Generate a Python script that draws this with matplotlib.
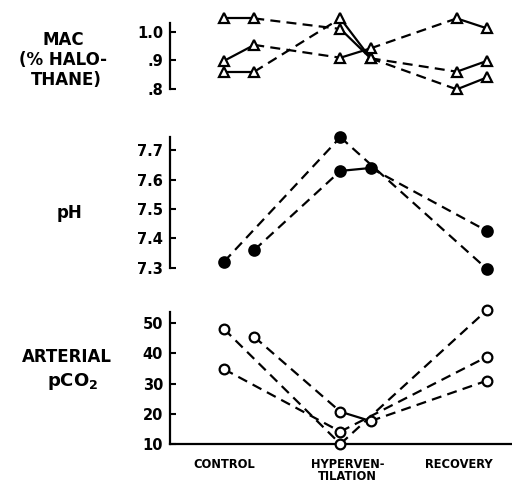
import matplotlib
matplotlib.use("Agg")
import matplotlib.pyplot as plt

# ---------------- data ----------------
# six time slots: control (early, late), hyperventilation (early, late), recovery (early, late)
phases = ["CONTROL", "HYPERVEN-\nTILATION", "RECOVERY"]

mac_s1 = [0.860, 0.860, 1.047, 0.907, 0.798, 0.840]
mac_s2 = [1.047, 1.047, 1.010, 0.907, 0.860, 0.898]
mac_s3 = [0.898, 0.954, 0.909, 0.942, 1.047, 1.012]
mac_ticks = [0.8, 0.9, 1.0]
mac_ticklabels = [".8", ".9", "1.0"]

ph_s1 = [7.32, None, 7.745, None, None, 7.295]
ph_s2 = [None, 7.36, 7.63, 7.64, None, 7.425]
ph_ticks = [7.3, 7.4, 7.5, 7.6, 7.7]

pco2_s1 = [48.1, None, 10.0, None, None, 54.4]
pco2_s2 = [34.8, None, 14.1, None, None, 38.9]
pco2_s3 = [None, 45.5, 20.7, 17.6, None, 31.0]
pco2_ticks = [10, 20, 30, 40, 50]

# ---------------- layout ----------------
W, H = 512, 483
fig = plt.figure(figsize=(W / 100, H / 100), dpi=100)
plt.rcParams["font.family"] = ["DejaVu Sans"]
plt.rcParams["mathtext.fontset"] = "dejavusans"

SUB = 0.26
slot_phase = [0, 0, 1, 1, 2, 2]
slot_x = [p + SUB * (i % 2) for i, p in enumerate(slot_phase)]

X_LEFT_PX, X_RIGHT_PX = 170, 512
x0_px, xpu = 224, (487 - 224) / 2.26
xlim = ((X_LEFT_PX - x0_px) / xpu, (X_RIGHT_PX - x0_px) / xpu)


def make_ax(v1, p1, v2, p2, ylim):
    s = (p2 - p1) / (v2 - v1)
    top = p1 + s * (ylim[1] - v1)
    bot = p1 + s * (ylim[0] - v1)
    rect = [X_LEFT_PX / W, 1 - bot / H, (X_RIGHT_PX - X_LEFT_PX) / W, (bot - top) / H]
    ax = fig.add_axes(rect)
    ax.set_xlim(*xlim)
    ax.set_ylim(*ylim)
    ax.patch.set_alpha(0)
    for sp in ("top", "right"):
        ax.spines[sp].set_visible(False)
    for sp in ax.spines.values():
        sp.set_linewidth(1.6)
    ax.set_xticks([])
    ax.tick_params(axis="y", direction="in", length=4, width=1.5, pad=5, labelsize=10.5)
    return ax


def draw_subject(ax, vals, marker, filled, ms):
    pts = [(slot_x[i], v, slot_phase[i]) for i, v in enumerate(vals) if v is not None]
    for (xa, ya, pa), (xb, yb, pb) in zip(pts[:-1], pts[1:]):
        ls = "-" if pa == pb else (0, (4.5, 2.8))
        ax.plot([xa, xb], [ya, yb], color="black", lw=1.6, linestyle=ls,
                zorder=2, clip_on=False)
    ax.plot([p[0] for p in pts], [p[1] for p in pts], linestyle="none",
            marker=marker, ms=ms, mec="black", mew=1.6,
            mfc="black" if filled else "white", zorder=3, clip_on=False)


# MAC panel
ax1 = make_ax(1.0, 31.8, 0.8, 88.8, (0.76, 1.07))
ax1.spines["bottom"].set_visible(False)
ax1.spines["left"].set_bounds(0.8, 1.03)
ax1.set_yticks(mac_ticks)
ax1.set_yticklabels(mac_ticklabels, fontweight="bold")
for s in (mac_s1, mac_s2, mac_s3):
    draw_subject(ax1, s, "^", False, 6.5)

# pH panel
ax2 = make_ax(7.7, 150.4, 7.3, 267.6, (7.26, 7.78))
ax2.spines["bottom"].set_visible(False)
ax2.spines["left"].set_bounds(7.3, 7.747)
ax2.set_yticks(ph_ticks)
ax2.set_yticklabels([f"{t:.1f}" for t in ph_ticks], fontweight="bold")
for s in (ph_s1, ph_s2):
    draw_subject(ax2, s, "o", True, 7.5)

# pCO2 panel
ax3 = make_ax(50, 323.3, 10, 444.0, (10, 58))
ax3.spines["left"].set_bounds(10, 53.8)
ax3.set_yticks(pco2_ticks)
ax3.set_yticklabels([str(t) for t in pco2_ticks], fontweight="bold")
for s in (pco2_s1, pco2_s2, pco2_s3):
    draw_subject(ax3, s, "o", False, 7)

# category labels under the x axis
label_x = [0.0, 1.06, 2.02]
for lx, name in zip(label_x, phases):
    ax3.text(lx, -0.095, name, transform=ax3.get_xaxis_transform(),
             ha="center", va="top", fontsize=8.3, fontweight="bold",
             linespacing=0.95)


def ftext(xp, yp, s, **kw):
    fig.text(xp / W, 1 - yp / H, s, ha="center", va="center",
             fontweight="bold", **kw)


ftext(63, 40, "MAC", fontsize=12)
ftext(63, 60, "(% HALO-", fontsize=12)
ftext(66, 80, "THANE)", fontsize=12)
ftext(70, 213, "pH", fontsize=12)
ftext(67, 357, "ARTERIAL", fontsize=12)
ftext(73, 381, r"$\mathbf{pCO_2}$", fontsize=13)

fig.savefig("out.png", dpi=100)
